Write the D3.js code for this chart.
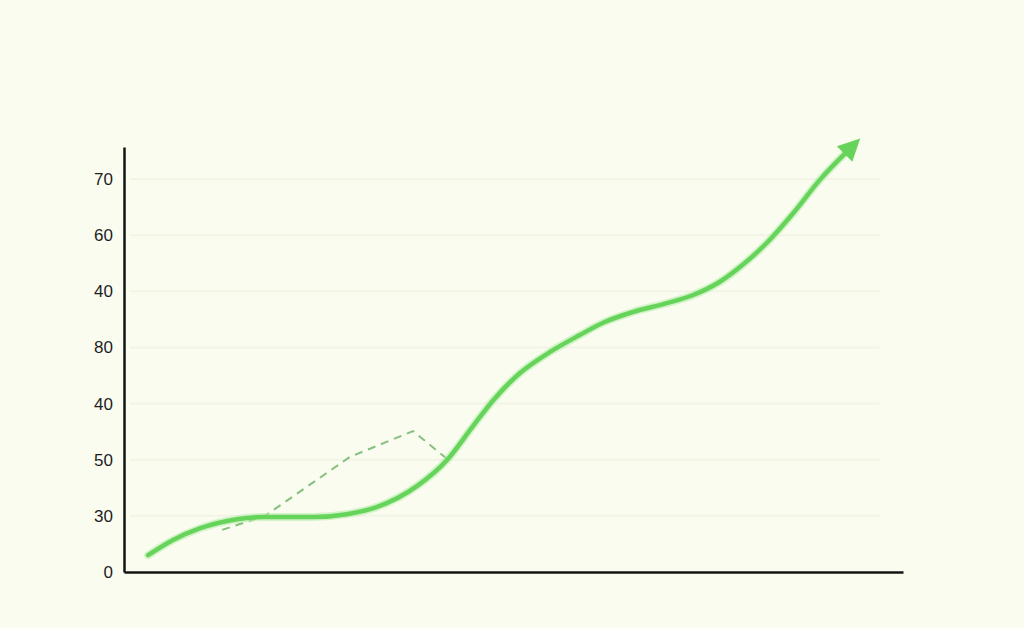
<!DOCTYPE html>
<html>
<head>
<meta charset="utf-8">
<script src="https://cdn.jsdelivr.net/npm/d3@7"></script>
<style>
  html, body { margin: 0; padding: 0; background: #fbfcf0; }
  svg { display: block; }
  .axis text { font-family: "Liberation Sans", Arial, sans-serif; font-size: 17px; fill: #1e1e1e; }
</style>
</head>
<body>
<div id="chart"></div>
<script>
// tick labels as printed on the y axis (bottom to top)
const tickValues = [0, 10, 20, 30, 40, 50, 60, 70];
const tickLabels = ['0', '30', '50', '40', '80', '40', '60', '70'];

// main trend line
const trendX = [3.1, 6.3, 9.8, 14.5, 17.8, 24.3, 28.6, 32.5, 37.6, 41.5, 44.7, 47.4, 50.8, 54.7, 58.5, 61.5, 65.3, 69.7, 73.0, 76.5, 79.5, 82.5, 85.9, 89.3, 92.9];
const trendY = [3.0, 5.7, 7.8, 9.4, 9.8, 9.8, 10.3, 11.6, 15.3, 20.0, 25.8, 30.6, 35.4, 39.2, 42.2, 44.4, 46.3, 47.9, 49.3, 51.7, 54.8, 58.6, 63.9, 69.8, 75.0];

// dashed side path
const dashX = [12.6, 18.1, 29.0, 37.1, 41.6];
const dashY = [7.5, 10.0, 20.5, 25.1, 20.0];

const width = 1024;
const height = 628;

const margin = { top: 147, right: 121, bottom: 56, left: 124 };
const innerWidth = width - margin.left - margin.right;
const innerHeight = height - margin.top - margin.bottom;

const xScale = d3.scaleLinear()
  .domain([0, 100])
  .range([0, innerWidth]);

const yScale = d3.scaleLinear()
  .domain([0, 75.7])
  .range([innerHeight, 0]);

const svg = d3.select('#chart')
  .append('svg')
    .attr('width', width)
    .attr('height', height);

svg.append('rect')
  .attr('width', width)
  .attr('height', height)
  .attr('fill', '#fbfcf0');

const defs = svg.append('defs');
defs.append('marker')
  .attr('id', 'arrow')
  .attr('viewBox', '0 0 10 10')
  .attr('refX', 2)
  .attr('refY', 5)
  .attr('markerUnits', 'userSpaceOnUse')
  .attr('markerWidth', 24)
  .attr('markerHeight', 22)
  .attr('orient', 'auto')
  .append('path')
    .attr('d', 'M0,0 L10,5 L0,10 Z')
    .attr('fill', '#66d45a');

const inner = svg.append('g')
  .attr('transform', `translate(${margin.left}, ${margin.top})`);

// faint grid
inner.append('g')
  .attr('class', 'grid')
  .selectAll('line')
  .data(tickValues.slice(1))
  .enter().append('line')
    .attr('x1', 6)
    .attr('x2', xScale(97))
    .attr('y1', d => yScale(d))
    .attr('y2', d => yScale(d))
    .attr('stroke', '#f2f4e5')
    .attr('stroke-width', 2);

// y axis
const yAxis = d3.axisLeft(yScale)
  .tickValues(tickValues)
  .tickFormat((d, i) => tickLabels[i])
  .tickSize(0)
  .tickPadding(11);

inner.append('g')
  .attr('class', 'axis axis-y')
  .call(yAxis)
  .call(g => g.select('.domain').attr('stroke', '#141414').attr('stroke-width', 2.5));

// x axis (no ticks)
const xAxis = d3.axisBottom(xScale).tickValues([]).tickSizeOuter(0);

inner.append('g')
  .attr('class', 'axis axis-x')
  .attr('transform', `translate(0, ${innerHeight})`)
  .call(xAxis)
  .call(g => g.select('.domain').attr('stroke', '#141414').attr('stroke-width', 2.5));

const dashData = dashX.map((x, i) => ({ x, y: dashY[i] }));
const trendData = trendX.map((x, i) => ({ x, y: trendY[i] }));

inner.append('path')
  .datum(dashData)
  .attr('fill', 'none')
  .attr('stroke', '#86bf7e')
  .attr('stroke-width', 2)
  .attr('stroke-dasharray', '8,6')
  .attr('d', d3.line().x(d => xScale(d.x)).y(d => yScale(d.y)));

const trendLine = d3.line()
  .x(d => xScale(d.x))
  .y(d => yScale(d.y))
  .curve(d3.curveMonotoneX);

// soft glow under the line
inner.append('path')
  .datum(trendData)
  .attr('fill', 'none')
  .attr('stroke', '#b9ecad')
  .attr('stroke-width', 8)
  .attr('stroke-linecap', 'round')
  .attr('opacity', 0.6)
  .attr('d', trendLine);

inner.append('path')
  .datum(trendData)
  .attr('fill', 'none')
  .attr('stroke', '#66d45a')
  .attr('stroke-width', 4.5)
  .attr('stroke-linecap', 'round')
  .attr('marker-end', 'url(#arrow)')
  .attr('d', trendLine);
</script>
</body>
</html>
